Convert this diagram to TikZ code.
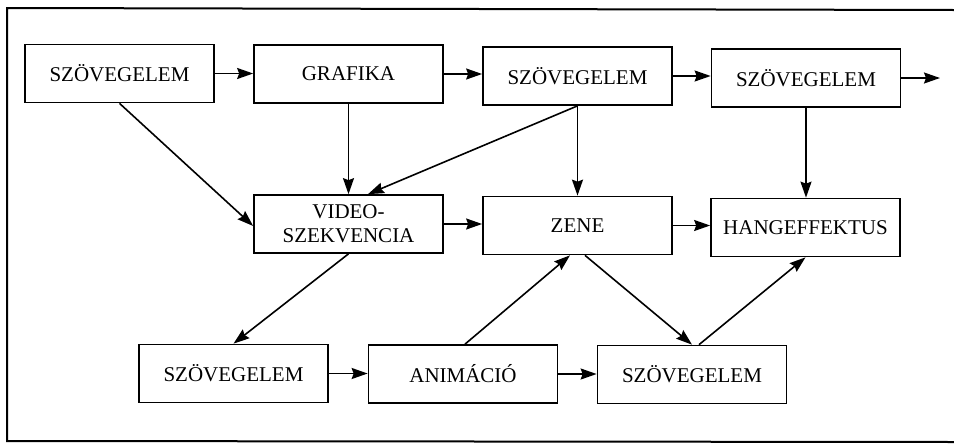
\documentclass[tikz,border=0pt]{standalone}
\usepackage{fontspec}
\setmainfont{Liberation Serif}
\usetikzlibrary{arrows.meta,calc}
\begin{document}
\begin{tikzpicture}[x=1pt,y=-1pt,
  box/.style={draw,line width=1.7pt,minimum width=189pt,minimum height=58pt,inner sep=0pt,font=\fontsize{21}{24}\selectfont,align=center},
  arr/.style={line width=1.6pt,-{Stealth[length=16pt,width=11pt,inset=2pt]}},
  frame/.style={line width=2pt}]
\useasboundingbox (0,0) rectangle (954,445);
\draw[frame] (954,10) -- (7,8) -- (7,441) -- (954,442);
\node[box] (s1) at (119.5,73.5) {SZÖVEGELEM};
\node[box] (graf) at (348.5,74) {GRAFIKA};
\node[box] (s3) at (577.5,76) {SZÖVEGELEM};
\node[box] (s4) at (806,78) {SZÖVEGELEM};
\node[box] (video) at (348.5,224) {VIDEO-\\SZEKVENCIA};
\node[box] (zene) at (577.5,225.5) {ZENE};
\node[box] (hang) at (805.5,227.5) {HANGEFFEKTUS};
\node[box] (s5) at (233.5,373.5) {SZÖVEGELEM};
\node[box] (anim) at (463,374) {ANIMÁCIÓ};
\node[box] (s7) at (692,374.5) {SZÖVEGELEM};
\coordinate (out) at (940,78);
\draw[arr] (s1.east) -- (s1.east -| graf.west);
\draw[arr] (graf.east) -- (graf.east -| s3.west);
\draw[arr] (s3.east) -- (s3.east -| s4.west);
\draw[arr] (s4.east) -- (out);
\draw[arr] (s1.south) -- ([yshift=-2pt]video.west);
\draw[arr] (graf.south) -- (video.north);
\draw[arr] (s3.south) -- ([xshift=19.5pt]video.north);
\draw[arr] (s3.south) -- (zene.north);
\draw[arr] (s4.south) -- (s4.south |- hang.north);
\draw[arr] (video.east) -- (video.east -| zene.west);
\draw[arr] (zene.east) -- (zene.east -| hang.west);
\draw[arr] (video.south) -- (s5.north);
\draw[arr] (s5.east) -- (s5.east -| anim.west);
\draw[arr] ([xshift=2pt]anim.north) -- ([xshift=-7.5pt]zene.south);
\draw[arr] (anim.east) -- (anim.east -| s7.west);
\draw[arr] ([xshift=7.5pt]zene.south) -- (s7.north);
\draw[arr] ([xshift=7pt]s7.north) -- (hang.south);
\end{tikzpicture}
\end{document}
